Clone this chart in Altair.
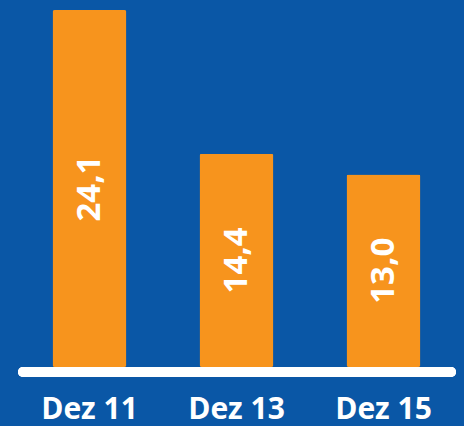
import altair as alt
import pandas as pd

categories = ["Dez 11", "Dez 13", "Dez 15"]
values = [24.1, 14.4, 13.0]
labels = ["24,1", "14,4", "13,0"]

df = pd.DataFrame({"cat": categories, "val": values, "lab": labels})
df["mid"] = df["val"] / 2

BG = "#0A57A6"
ORANGE = "#F7941D"
FONT = "Open Sans"

x = alt.X(
    "cat:N",
    sort=categories,
    title=None,
    scale=alt.Scale(paddingInner=0.497, paddingOuter=0.2485),
    axis=alt.Axis(
        domain=False,
        ticks=False,
        grid=False,
        labelAngle=0,
        labelColor="white",
        labelFont=FONT,
        labelFontWeight="bold",
        labelFontSize=30,
        labelBaseline="alphabetic",
        labelPadding=51,
    ),
)
yscale = alt.Scale(domain=[0, 24.78])

bars = alt.Chart(df).mark_bar(color=ORANGE, cornerRadius=2).encode(
    x=x,
    y=alt.Y("val:Q", scale=yscale, axis=None),
)

text = alt.Chart(df).mark_text(
    angle=270, color="white", font=FONT, fontWeight="bold", fontSize=33,
    align="center", baseline="middle",
).encode(
    x=alt.X("cat:N", sort=categories),
    y=alt.Y("mid:Q", scale=yscale),
    text="lab:N",
)

base_line = alt.Chart(df).mark_rule(color="white", strokeWidth=10, strokeCap="round").encode(
    x=alt.value(7), x2=alt.value(435), y=alt.value(372)
)

chart = alt.layer(bars, text, base_line).properties(
    width=441,
    height=367,
    background=BG,
    padding={"left": 16, "right": 7, "top": 0, "bottom": 59},
    autosize=alt.AutoSizeParams(type="none"),
).configure_view(stroke=None)

chart.save("out.html", embed_options={"renderer": "svg", "actions": False})
